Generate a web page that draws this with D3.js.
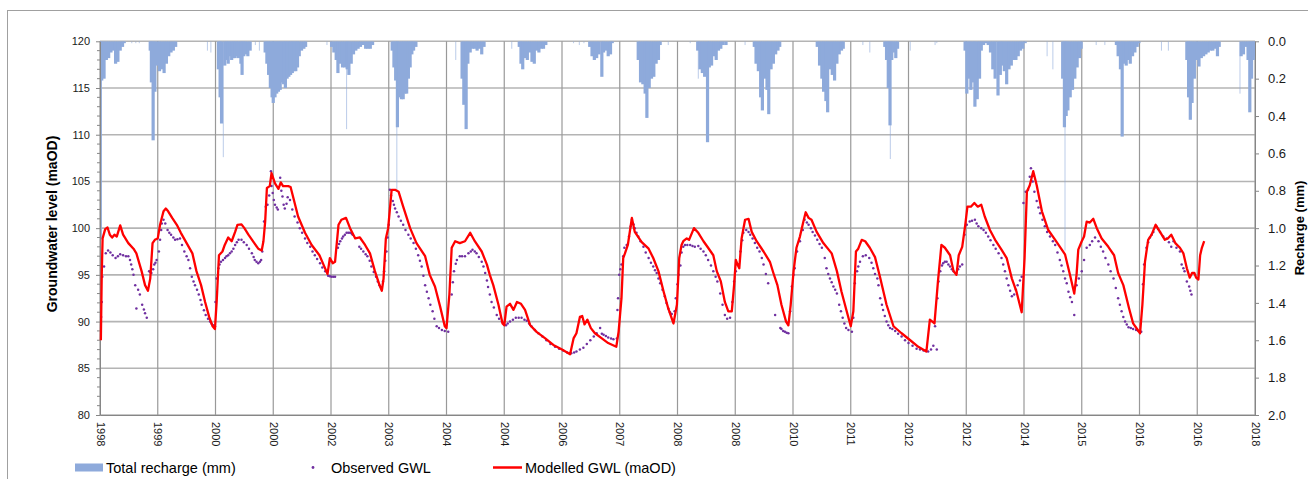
<!DOCTYPE html>
<html>
<head>
<meta charset="utf-8">
<script src="https://cdn.jsdelivr.net/npm/d3@7"></script>
<style>
    body { margin: 0; background: #fff; }
    text { font-family: "Liberation Sans", Arial, sans-serif; }
</style>
</head>
<body>
<script>
//x axis labels (one every 365 days, so leap years repeat a label)
var tickLabels = ["1998","1999","2000","2000","2002","2003","2004","2004","2006","2007",
    "2008","2008","2010","2011","2012","2012","2014","2015","2016","2016","2018"];

var leftTicks = [80, 85, 90, 95, 100, 105, 110, 115, 120];
var rightTicks = [0, 0.2, 0.4, 0.6, 0.8, 1.0, 1.2, 1.4, 1.6, 1.8, 2.0];

//total recharge (mm), [decimal year, mm]
var recharge = [
    [1998.005,1.06],[1998.03,0.21],[1998.07,0.2],[1998.11,0.1],[1998.15,0.09],[1998.19,0.06],[1998.23,0.05],[1998.27,0.12],[1998.31,0.11],[1998.35,0.05],[1998.39,0.03],[1998.42,0.01],
    [1998.87,0.05],[1998.89,0.22],[1998.92,0.53],[1998.95,0.27],[1998.99,0.13],[1999.03,0.16],[1999.07,0.15],[1999.11,0.17],[1999.15,0.12],[1999.19,0.08],[1999.23,0.06],[1999.27,0.05],[1999.31,0.03],
    [2000.05,0.15],[2000.08,0.3],[2000.105,0.44],[2000.16,0.13],[2000.19,0.1],[2000.22,0.12],[2000.25,0.08],[2000.28,0.1],[2000.31,0.09],[2000.34,0.09],[2000.37,0.08],[2000.40,0.09],[2000.44,0.12],[2000.46,0.18],[2000.49,0.08],[2000.52,0.07],[2000.56,0.08],[2000.60,0.05],
    [2000.86,0.06],[2000.89,0.12],[2000.92,0.18],[2000.95,0.25],[2000.98,0.3],[2001.0,0.33],[2001.03,0.3],[2001.06,0.28],[2001.09,0.27],[2001.12,0.26],[2001.15,0.22],[2001.18,0.23],[2001.21,0.25],[2001.24,0.2],[2001.27,0.19],[2001.30,0.18],[2001.33,0.17],[2001.36,0.16],[2001.39,0.16],[2001.42,0.14],[2001.45,0.08],[2001.49,0.05],[2001.53,0.04],[2001.56,0.03],
    [2002.01,0.03],[2002.05,0.06],[2002.09,0.1],[2002.12,0.17],[2002.16,0.12],[2002.20,0.14],[2002.24,0.14],[2002.28,0.15],[2002.31,0.18],[2002.35,0.12],[2002.39,0.07],[2002.43,0.05],[2002.47,0.04],[2002.51,0.03],[2002.56,0.02],[2002.60,0.04],[2002.64,0.04],[2002.68,0.04],[2002.72,0.02],
    [2003.06,0.05],[2003.09,0.14],[2003.12,0.21],[2003.15,0.46],[2003.18,0.3],[2003.22,0.31],[2003.25,0.31],[2003.28,0.28],[2003.31,0.28],[2003.34,0.2],[2003.37,0.14],[2003.40,0.07],[2003.43,0.05],[2003.47,0.03],
    [2004.27,0.2],[2004.30,0.34],[2004.34,0.47],[2004.37,0.12],[2004.41,0.06],[2004.45,0.04],[2004.49,0.04],[2004.53,0.05],[2004.57,0.04],[2004.61,0.07],[2004.65,0.03],
    [2005.26,0.03],[2005.29,0.12],[2005.32,0.15],[2005.36,0.09],[2005.40,0.1],[2005.44,0.06],[2005.48,0.11],[2005.52,0.12],[2005.56,0.05],[2005.60,0.06],[2005.64,0.04],[2005.68,0.04],[2005.72,0.02],
    [2006.48,0.03],[2006.52,0.08],[2006.56,0.1],[2006.60,0.09],[2006.64,0.07],[2006.69,0.19],[2006.72,0.06],[2006.76,0.05],[2006.80,0.08],[2006.84,0.07],[2006.87,0.01],
    [2007.32,0.1],[2007.36,0.22],[2007.40,0.23],[2007.44,0.28],[2007.47,0.41],[2007.51,0.25],[2007.55,0.2],[2007.59,0.19],[2007.63,0.12],[2007.67,0.1],[2007.70,0.02],
    [2008.35,0.05],[2008.39,0.15],[2008.43,0.17],[2008.47,0.19],[2008.52,0.54],[2008.55,0.14],[2008.59,0.13],[2008.63,0.08],[2008.67,0.1],[2008.71,0.05],[2008.75,0.04],[2008.79,0.02],[2008.84,0.02],
    [2009.33,0.03],[2009.36,0.12],[2009.40,0.16],[2009.44,0.3],[2009.47,0.37],[2009.51,0.2],[2009.55,0.26],[2009.58,0.39],[2009.62,0.15],[2009.66,0.12],[2009.70,0.07],[2009.74,0.05],[2009.77,0.03],
    [2010.42,0.03],[2010.46,0.13],[2010.50,0.2],[2010.53,0.27],[2010.57,0.32],[2010.60,0.38],[2010.64,0.15],[2010.68,0.18],[2010.72,0.21],[2010.76,0.12],[2010.80,0.07],[2010.84,0.05],[2010.87,0.04],
    [2011.59,0.03],[2011.62,0.1],[2011.65,0.25],[2011.68,0.45],[2011.71,0.1],[2011.74,0.06],[2011.78,0.09],[2011.81,0.04],
    [2012.98,0.05],[2013.01,0.28],[2013.05,0.2],[2013.08,0.26],[2013.12,0.22],[2013.15,0.35],[2013.19,0.31],[2013.23,0.2],[2013.26,0.05],[2013.30,0.02],[2013.34,0.01],[2013.38,0.02],[2013.42,0.06],[2013.46,0.15],[2013.50,0.2],[2013.55,0.29],[2013.59,0.18],[2013.62,0.13],[2013.66,0.16],[2013.70,0.23],[2013.74,0.15],[2013.78,0.13],[2013.82,0.1],[2013.86,0.1],[2013.90,0.08],[2013.94,0.05],[2013.98,0.04],[2014.02,0.01],
    [2014.67,0.2],[2014.70,0.46],[2014.73,0.4],[2014.76,0.37],[2014.80,0.3],[2014.84,0.26],[2014.88,0.2],[2014.92,0.14],[2014.96,0.09],[2014.99,0.04],
    [2015.60,0.02],[2015.63,0.08],[2015.67,0.15],[2015.70,0.51],[2015.73,0.12],[2015.77,0.13],[2015.81,0.1],[2015.84,0.12],[2015.88,0.08],[2015.92,0.06],[2015.96,0.03],[2015.99,0.01],
    [2016.82,0.1],[2016.85,0.3],[2016.88,0.42],[2016.91,0.33],[2016.95,0.2],[2016.99,0.1],[2017.03,0.135],[2017.07,0.09],[2017.11,0.08],[2017.15,0.07],[2017.19,0.06],[2017.23,0.05],[2017.27,0.05],[2017.31,0.04],[2017.35,0.08],[2017.38,0.03],
    [2017.76,0.08],[2017.80,0.07],[2017.84,0.03],[2017.88,0.1],[2017.91,0.38],[2017.94,0.2],[2017.97,0.1],[2017.99,0.08]
];

//single-day recharge peaks (drawn as hairlines)
var rechargeDaily = [
    [1998.55,0.01],[1998.62,0.01],[1998.68,0.01],[1999.86,0.05],[1999.92,0.06],[2000.135,0.62],[2000.69,0.02],[2000.76,0.05],
    [2001.93,0.02],[2002.27,0.47],[2003.14,0.8],[2004.16,0.1],[2005.13,0.04],[2006.20,0.01],[2006.30,0.02],[2006.38,0.01],
    [2007.84,0.02],[2008.22,0.01],[2008.36,0.2],[2009.17,0.02],[2011.21,0.02],[2011.33,0.06],[2011.685,0.63],[2012.03,0.05],
    [2012.46,0.02],[2012.49,0.01],[2014.40,0.08],[2014.50,0.15],[2014.71,1.12],[2015.25,0.02],[2015.40,0.02],[2016.38,0.05],
    [2016.50,0.05],[2017.74,0.28]
];

//observed groundwater level (maOD)
var observedGWL = [
    [1998.02,90.5],[1998.03,92.1],[1998.04,94.8],[1998.07,95.9],[1998.10,97.3],[1998.14,97.6],[1998.18,97.4],[1998.22,97.1],[1998.27,96.8],[1998.31,97.0],[1998.35,97.2],[1998.40,97.1],[1998.45,97.0],[1998.49,97.0],[1998.52,96.6],[1998.54,96.1],[1998.56,95.6],[1998.58,95.0],[1998.61,93.9],[1998.63,91.4],[1998.66,93.4],[1998.69,92.9],[1998.73,91.8],[1998.76,91.3],[1998.78,90.9],[1998.81,90.4],
    [1998.85,95.4],[1998.87,95.3],[1998.89,95.2],[1998.92,95.6],[1998.94,96.1],[1998.96,96.3],[1998.98,96.6],[1999.02,97.5],[1999.04,98.75],[1999.06,99.8],[1999.07,100.5],[1999.10,100.9],[1999.13,100.5],[1999.17,99.8],[1999.20,99.5],[1999.23,99.3],[1999.27,99.0],[1999.30,98.75],[1999.34,98.8],[1999.385,98.9],[1999.42,98.2],[1999.46,97.5],[1999.50,97.0],[1999.53,96.6],[1999.56,95.7],[1999.59,94.8],[1999.62,94.3],[1999.645,93.9],[1999.68,93.4],[1999.71,92.9],[1999.74,92.3],[1999.76,91.8],[1999.80,91.2],[1999.83,90.7],[1999.87,90.3],[1999.905,90.0],[1999.93,89.8],[1999.96,89.6],[1999.99,89.5],
    [2000.00,92.1],[2000.02,94.6],[2000.05,95.7],[2000.07,96.1],[2000.095,96.4],[2000.13,96.6],[2000.165,96.8],[2000.19,97.0],[2000.22,97.1],[2000.25,97.3],[2000.28,97.5],[2000.31,97.8],[2000.34,98.2],[2000.37,98.5],[2000.40,98.75],[2000.45,98.75],[2000.49,98.5],[2000.54,98.2],[2000.58,97.8],[2000.63,97.3],[2000.66,96.9],[2000.68,96.6],[2000.71,96.4],[2000.74,96.25],[2000.77,96.4],[2000.79,96.6],[2000.81,97.5],[2000.84,100.7],[2000.87,102.3],[2000.90,102.5],[2000.93,103.5],[2000.96,106.1],[2000.97,104.5],[2000.99,103.75],[2001.01,103.0],[2001.03,102.5],[2001.06,102.2],[2001.08,102.0],[2001.12,105.4],[2001.14,104.0],[2001.16,103.4],[2001.18,102.5],[2001.20,102.1],[2001.23,102.6],[2001.25,103.3],[2001.29,103.0],[2001.33,102.0],[2001.37,101.25],
    [2001.42,100.6],[2001.46,100.0],[2001.50,99.5],[2001.55,98.9],[2001.59,98.4],[2001.64,98.0],[2001.68,97.5],[2001.72,97.1],[2001.76,96.7],[2001.81,96.25],[2001.85,95.8],[2001.90,95.4],[2001.95,94.9],[2001.98,94.85],[2002.01,94.8],[2002.04,94.8],[2002.07,94.8],
    [2002.12,97.9],[2002.14,98.3],[2002.16,98.6],[2002.19,98.9],[2002.21,99.1],[2002.24,99.3],[2002.27,99.5],[2002.30,99.5],[2002.33,99.5],[2002.36,99.4],[2002.375,99.3],
    [2002.49,98.0],[2002.52,97.8],[2002.56,97.5],[2002.60,97.2],[2002.63,97.0],[2002.67,96.5],[2002.70,95.9],[2002.74,95.3],[2002.78,94.8],[2002.81,94.3],[2002.84,93.9],[2002.86,93.7],[2002.88,93.6],[2002.90,94.3],[2002.92,95.4],[2002.94,96.5],[2002.96,97.5],[2002.98,99.0],[2003.00,100.36],[2003.02,104.1],[2003.04,103.5],[2003.07,102.9],[2003.09,102.5],[2003.11,102.1],[2003.14,101.7],[2003.17,101.25],[2003.21,100.8],[2003.25,100.36],[2003.29,99.8],[2003.34,99.3],[2003.38,98.9],[2003.43,98.4],[2003.47,97.8],[2003.51,97.1],[2003.54,96.5],[2003.57,95.9],[2003.60,94.9],[2003.63,93.9],[2003.66,93.2],[2003.69,92.5],[2003.72,91.8],[2003.76,91.1],[2003.79,90.3],[2003.83,89.5],[2003.87,89.3],[2003.92,89.1],[2003.97,89.0],[2004.03,88.9],
    [2004.09,92.9],[2004.11,94.2],[2004.13,95.4],[2004.16,96.2],[2004.18,96.6],[2004.23,97.0],[2004.27,97.0],[2004.32,97.0],[2004.38,97.3],[2004.42,97.5],[2004.45,97.7],[2004.49,97.5],[2004.52,97.3],[2004.56,96.9],[2004.61,96.4],[2004.64,95.9],[2004.67,95.2],[2004.70,94.4],[2004.72,93.7],[2004.75,92.9],[2004.78,92.1],[2004.82,91.5],[2004.87,90.7],[2004.91,90.3],[2004.96,90.0],[2005.00,89.7],[2005.03,89.6],[2005.06,89.8],[2005.10,90.0],[2005.15,90.2],[2005.20,90.4],[2005.25,90.4],[2005.30,90.4],[2005.35,90.2],[2005.39,90.1],[2005.43,89.8],[2005.47,89.5],[2005.53,89.1],[2005.59,88.75],[2005.66,88.4],[2005.73,88.0],[2005.80,87.6],[2005.88,87.3],[2005.95,87.1],[2006.02,86.9],[2006.09,86.7],[2006.16,86.6],[2006.21,86.7],[2006.25,86.8],[2006.31,87.0],[2006.37,87.2],[2006.43,87.6],[2006.49,88.0],[2006.55,88.4],[2006.60,88.75],[2006.66,89.3],[2006.69,88.7],[2006.72,88.6],[2006.76,88.45],[2006.80,88.3],[2006.85,88.2],[2006.89,88.1],[2006.95,88.2],
    [2006.96,91.25],[2006.97,92.5],[2006.99,95.0],[2007.01,95.6],[2007.03,96.1],[2007.06,97.0],[2007.08,97.9],[2007.12,98.2],[2007.16,99.1],[2007.19,100.2],[2007.21,100.9],[2007.24,100.4],[2007.26,100.0],[2007.29,99.5],[2007.32,99.1],[2007.36,98.6],[2007.41,98.0],[2007.45,97.4],[2007.50,96.8],[2007.54,96.3],[2007.58,95.9],[2007.61,95.5],[2007.64,95.2],[2007.67,94.6],[2007.70,94.1],[2007.74,93.4],[2007.78,92.7],[2007.81,92.0],[2007.84,91.4],[2007.87,91.0],[2007.90,90.8],[2007.95,91.1],[2007.97,92.5],[2008.00,94.0],[2008.02,95.0],[2008.05,96.0],[2008.07,97.4],[2008.10,98.0],[2008.13,98.2],[2008.17,98.2],[2008.22,98.2],[2008.26,98.1],[2008.30,98.0],[2008.36,98.1],[2008.40,97.8],[2008.45,97.5],[2008.49,97.1],[2008.53,96.6],[2008.58,96.0],[2008.62,95.4],[2008.66,94.8],[2008.69,94.3],[2008.74,93.0],[2008.78,91.8],[2008.82,90.7],[2008.86,90.3],[2008.91,90.4],[2008.95,92.1],[2008.98,94.3],
    [2009.01,95.4],[2009.05,96.1],[2009.09,97.5],[2009.12,98.7],[2009.14,99.5],[2009.19,99.8],[2009.23,99.6],[2009.26,99.3],[2009.30,98.9],[2009.34,98.4],[2009.38,97.9],[2009.42,97.5],[2009.46,96.8],[2009.49,96.1],[2009.53,95.1],[2009.57,94.1],[2009.69,90.7],[2009.78,89.3],[2009.80,89.2],[2009.83,89.0],[2009.86,88.9],[2009.89,88.8],[2009.92,88.75],[2009.95,91.1],[2009.98,93.75],[2010.01,95.0],[2010.03,95.7],[2010.07,97.5],[2010.12,98.6],[2010.17,99.8],[2010.20,100.9],[2010.24,100.6],[2010.27,100.36],[2010.31,100.0],[2010.34,99.6],[2010.38,99.2],[2010.42,98.75],[2010.46,98.3],[2010.50,97.9],[2010.55,96.8],[2010.58,95.7],[2010.61,95.1],[2010.64,94.6],[2010.67,94.2],[2010.70,93.75],[2010.73,93.4],[2010.76,93.0],[2010.80,91.8],[2010.83,91.1],[2010.86,90.4],[2010.89,89.8],[2010.92,89.3],[2010.96,89.1],[2011.02,88.9],
    [2011.045,90.4],[2011.07,94.1],[2011.11,95.4],[2011.13,95.9],[2011.16,96.4],[2011.21,97.0],[2011.26,97.1],[2011.32,96.8],[2011.36,96.3],[2011.39,95.7],[2011.42,95.1],[2011.46,94.6],[2011.48,93.9],[2011.51,92.5],[2011.54,91.8],[2011.56,91.25],[2011.59,90.6],[2011.62,90.0],[2011.65,89.6],[2011.68,89.3],[2011.72,89.2],[2011.77,89.0],[2011.82,88.7],[2011.88,88.4],[2011.94,88.0],[2012.00,87.7],[2012.07,87.4],[2012.14,87.1],[2012.20,87.0],[2012.26,86.9],[2012.30,86.85],[2012.34,86.8],[2012.39,87.0],[2012.43,87.4],[2012.49,87.0],
    [2012.46,89.5],[2012.50,92.5],[2012.52,94.3],[2012.55,95.4],[2012.58,96.0],[2012.60,96.25],[2012.63,96.4],[2012.66,96.4],[2012.69,96.1],[2012.72,95.9],[2012.75,95.6],[2012.78,95.4],[2012.83,95.2],[2012.86,95.6],[2012.89,95.9],[2012.93,96.1],[2012.97,99.3],[2013.01,100.36],[2013.06,100.7],[2013.10,100.8],[2013.15,100.9],[2013.18,100.5],[2013.21,100.2],[2013.26,100.0],[2013.30,99.8],[2013.34,99.5],[2013.38,99.1],[2013.42,98.7],[2013.47,98.2],[2013.51,97.8],[2013.56,97.3],[2013.61,96.8],[2013.64,96.1],[2013.67,95.4],[2013.70,94.6],[2013.73,93.9],[2013.76,93.3],[2013.79,92.7],[2013.83,92.9],[2013.86,93.4],[2013.89,93.9],[2013.93,94.4],[2013.96,94.8],
    [2013.99,102.7],[2014.03,103.9],[2014.07,104.1],[2014.10,105.5],[2014.12,106.4],[2014.15,105.0],[2014.18,103.9],[2014.22,102.9],[2014.25,102.2],[2014.28,101.6],[2014.32,100.9],[2014.36,100.2],[2014.40,99.6],[2014.45,99.1],[2014.50,98.6],[2014.54,98.2],[2014.58,97.4],[2014.62,96.6],[2014.65,96.0],[2014.68,95.4],[2014.71,94.6],[2014.74,94.1],[2014.77,93.2],[2014.80,92.6],[2014.83,92.1],[2014.87,90.7],
    [2014.91,93.9],[2014.95,94.6],[2015.00,95.4],[2015.04,96.6],[2015.085,97.9],[2015.14,98.2],[2015.18,98.6],[2015.23,99.0],[2015.29,98.6],[2015.33,98.0],[2015.37,97.5],[2015.41,96.8],[2015.46,96.1],[2015.50,95.4],[2015.55,94.6],[2015.59,93.6],[2015.63,92.5],[2015.66,91.8],[2015.69,91.1],[2015.72,90.5],[2015.75,90.0],[2015.78,89.7],[2015.81,89.4],[2015.85,89.3],[2015.89,89.2],[2015.94,89.1],[2015.98,89.0],[2016.03,88.9],
    [2016.06,94.0],[2016.08,96.1],[2016.12,97.9],[2016.15,98.5],[2016.18,99.0],[2016.21,99.3],[2016.24,99.6],[2016.29,100.2],[2016.32,99.9],[2016.355,99.6],[2016.41,99.1],[2016.47,98.9],[2016.51,98.5],[2016.55,98.0],[2016.59,98.6],[2016.64,97.9],[2016.70,97.5],[2016.73,96.1],[2016.76,95.7],[2016.78,95.4],[2016.82,94.3],[2016.86,93.75],[2016.88,93.3],[2016.90,92.9]
];

//modelled groundwater level (maOD)
var modelledGWL = [
    [1998.015,88.0],[1998.03,95.0],[1998.045,98.9],[1998.09,99.9],[1998.13,100.07],[1998.17,99.3],[1998.21,99.0],[1998.25,99.3],[1998.29,99.1],[1998.35,100.3],[1998.40,99.3],[1998.49,98.4],[1998.58,97.8],[1998.63,97.3],[1998.72,95.4],[1998.78,93.9],[1998.83,93.3],[1998.87,94.6],[1998.91,98.4],[1998.95,98.75],[1999.0,98.9],
    [1999.04,100.36],[1999.10,101.8],[1999.14,102.1],[1999.18,101.8],[1999.25,101.1],[1999.33,100.36],[1999.40,99.5],[1999.50,98.4],[1999.60,97.3],[1999.67,95.4],[1999.75,93.9],[1999.82,92.1],[1999.89,90.5],[1999.95,89.5],[1999.99,89.2],
    [2000.02,92.1],[2000.06,97.1],[2000.12,97.5],[2000.16,98.2],[2000.22,99.0],[2000.28,98.6],[2000.34,99.6],[2000.38,100.36],[2000.45,100.4],[2000.50,100.0],[2000.57,99.3],[2000.66,98.5],[2000.74,97.8],[2000.80,97.6],[2000.83,98.6],[2000.86,100.7],[2000.89,104.3],[2000.94,104.5],[2000.97,105.9],
    [2001.03,104.8],[2001.09,104.2],[2001.13,104.9],[2001.17,104.5],[2001.26,104.5],[2001.30,104.4],[2001.35,103.2],[2001.43,101.25],[2001.55,99.5],[2001.665,98.2],[2001.80,97.1],[2001.87,96.1],[2001.94,95.1],[2001.98,96.8],
    [2002.03,96.25],[2002.07,96.4],[2002.13,100.36],[2002.18,100.9],[2002.26,101.1],[2002.33,100.0],[2002.42,98.9],[2002.50,99.0],[2002.59,98.2],[2002.675,97.3],[2002.76,95.4],[2002.84,93.9],[2002.88,93.3],[2002.91,94.6],[2002.95,98.9],[2002.99,100.0],
    [2003.05,104.1],[2003.11,104.1],[2003.17,103.9],[2003.25,102.3],[2003.37,100.0],[2003.48,98.4],[2003.63,97.0],[2003.71,95.0],[2003.80,93.75],[2003.89,91.6],[2003.97,89.5],[2004.0,89.3],
    [2004.05,92.9],[2004.09,97.9],[2004.15,98.6],[2004.23,98.4],[2004.32,98.6],[2004.41,99.5],[2004.49,98.6],[2004.61,97.5],[2004.70,96.1],[2004.75,95.0],[2004.81,93.9],[2004.90,91.8],[2004.97,89.8],[2005.0,89.6],
    [2005.04,91.6],[2005.10,91.9],[2005.16,91.25],[2005.22,92.1],[2005.29,91.9],[2005.36,91.25],[2005.45,89.6],[2005.56,88.9],[2005.71,88.2],[2005.85,87.5],[2006.0,87.0],
    [2006.14,86.5],[2006.20,88.2],[2006.25,88.75],[2006.31,90.5],[2006.35,90.6],[2006.39,89.7],[2006.44,90.2],[2006.50,89.3],[2006.57,88.75],[2006.69,88.2],[2006.80,87.7],[2006.94,87.3],[2006.98,88.9],
    [2007.03,92.5],[2007.06,96.8],[2007.09,97.3],[2007.14,98.2],[2007.21,101.1],[2007.26,99.6],[2007.38,98.5],[2007.50,97.8],[2007.58,96.8],[2007.67,95.4],[2007.76,93.2],[2007.84,91.4],[2007.93,89.8],[2007.99,91.8],
    [2008.03,96.8],[2008.07,98.2],[2008.10,98.6],[2008.16,98.9],[2008.20,98.75],[2008.285,100.0],[2008.36,99.5],[2008.45,98.6],[2008.53,97.9],[2008.62,97.1],[2008.68,95.4],[2008.75,94.3],[2008.82,92.1],[2008.88,91.1],[2008.94,91.1],[2008.98,93.9],
    [2009.01,96.6],[2009.04,96.1],[2009.07,95.7],[2009.11,98.9],[2009.17,100.9],[2009.23,101.0],[2009.285,99.6],[2009.37,98.6],[2009.49,97.5],[2009.60,96.4],[2009.66,95.2],[2009.73,93.9],[2009.80,91.8],[2009.88,90.0],[2009.92,89.6],[2009.96,91.8],
    [2010.01,95.4],[2010.06,97.9],[2010.12,99.1],[2010.18,100.7],[2010.22,101.7],[2010.27,101.1],[2010.32,100.9],[2010.41,99.6],[2010.525,98.4],[2010.67,97.3],[2010.76,95.4],[2010.84,93.2],[2010.93,91.1],[2011.0,89.5],
    [2011.045,91.1],[2011.09,97.5],[2011.13,97.8],[2011.19,98.75],[2011.25,98.6],[2011.33,97.9],[2011.42,96.9],[2011.51,94.7],[2011.54,93.9],[2011.62,91.8],[2011.74,89.5],[2011.88,88.75],[2012.03,88.0],[2012.17,87.3],[2012.31,86.8],
    [2012.37,90.2],[2012.45,89.8],[2012.51,94.3],[2012.57,98.2],[2012.63,97.9],[2012.72,97.1],[2012.78,95.4],[2012.83,95.0],[2012.87,97.1],[2012.93,98.0],[2012.98,100.2],
    [2013.02,102.3],[2013.08,102.3],[2013.14,102.7],[2013.20,102.3],[2013.26,102.5],[2013.32,101.25],[2013.41,99.8],[2013.50,98.75],[2013.61,97.7],[2013.70,96.8],[2013.79,94.6],[2013.87,93.2],[2013.96,91.0],
    [2014.01,96.8],[2014.05,103.9],[2014.10,104.6],[2014.16,106.1],[2014.22,104.6],[2014.31,101.8],[2014.42,99.8],[2014.54,98.75],[2014.71,97.2],[2014.80,94.9],[2014.87,93.0],[2014.91,95.0],[2014.94,97.7],
    [2015.0,98.6],[2015.04,99.1],[2015.085,100.7],[2015.14,100.6],[2015.20,101.0],[2015.26,100.0],[2015.345,98.9],[2015.46,98.0],[2015.56,97.1],[2015.63,95.2],[2015.72,93.9],[2015.82,91.4],[2015.89,89.8],[2015.97,89.1],[2016.01,88.75],
    [2016.05,91.8],[2016.095,96.4],[2016.15,98.75],[2016.21,99.3],[2016.28,100.36],[2016.355,99.6],[2016.44,98.75],[2016.49,98.9],[2016.55,99.3],[2016.62,98.4],[2016.70,97.9],[2016.76,97.3],[2016.82,95.7],[2016.87,94.7],[2016.91,95.2],[2016.95,95.2],[2016.98,94.7],
    [2017.02,94.5],[2017.05,97.1],[2017.08,97.9],[2017.12,98.6]
];

window.onload = setChart();

function setChart(){
    //page and plot frame
    var width = 1308,
        height = 479;
    var plot = {left: 100, right: 1255, top: 41.3, bottom: 415};

    var svg = d3.select("body")
        .append("svg")
        .attr("width", width)
        .attr("height", height);

    //outer chart border (runs off the right and bottom edges)
    svg.append("rect")
        .attr("x", 7.5)
        .attr("y", 10.5)
        .attr("width", 1340)
        .attr("height", 500)
        .attr("fill", "none")
        .attr("stroke", "#a0a0a0");

    //scales
    var x = d3.scaleLinear()
        .domain([1998, 2018])
        .range([plot.left, plot.right]);

    var yLeft = d3.scaleLinear()
        .domain([80, 120])
        .range([plot.bottom, plot.top]);

    var yRight = d3.scaleLinear()
        .domain([0, 2])
        .range([plot.top, plot.bottom]);

    var years = d3.range(1998, 2019);

    //gridlines
    svg.append("g")
        .selectAll("line")
        .data(leftTicks)
        .enter()
        .append("line")
        .attr("x1", plot.left)
        .attr("x2", plot.right)
        .attr("y1", function(d){ return yLeft(d); })
        .attr("y2", function(d){ return yLeft(d); })
        .attr("stroke", "#b4b4b4")
        .attr("stroke-width", 1.6);

    svg.append("g")
        .selectAll("line")
        .data(years)
        .enter()
        .append("line")
        .attr("x1", function(d){ return x(d); })
        .attr("x2", function(d){ return x(d); })
        .attr("y1", plot.top)
        .attr("y2", plot.bottom)
        .attr("stroke", "#999")
        .attr("stroke-width", 1.2);

    //clip for recharge bars
    svg.append("clipPath")
        .attr("id", "plotClip")
        .append("rect")
        .attr("x", plot.left)
        .attr("y", plot.top)
        .attr("width", plot.right - plot.left)
        .attr("height", plot.bottom - plot.top);

    var bars = svg.append("g").attr("clip-path", "url(#plotClip)");

    //recharge columns hanging from the top (secondary axis)
    bars.selectAll(".rech")
        .data(recharge)
        .enter()
        .append("rect")
        .attr("class", "rech")
        .attr("x", function(d){ return x(d[0]) - 1.6; })
        .attr("y", yRight(0))
        .attr("width", 3.2)
        .attr("height", function(d){ return yRight(d[1]) - yRight(0); })
        .attr("fill", "#8eaadb");

    bars.selectAll(".rechDay")
        .data(rechargeDaily)
        .enter()
        .append("rect")
        .attr("class", "rechDay")
        .attr("x", function(d){ return x(d[0]) - 0.5; })
        .attr("y", yRight(0))
        .attr("width", 1)
        .attr("height", function(d){ return yRight(d[1]) - yRight(0); })
        .attr("fill", "#8eaadb")
        .attr("opacity", 0.6);

    //left axis with minor ticks
    var minorTicks = d3.range(80, 121).filter(function(d){ return d % 5 !== 0; });
    svg.append("g")
        .selectAll("line")
        .data(minorTicks)
        .enter()
        .append("line")
        .attr("x1", plot.left - 3)
        .attr("x2", plot.left)
        .attr("y1", function(d){ return yLeft(d); })
        .attr("y2", function(d){ return yLeft(d); })
        .attr("stroke", "#888");

    var leftAxis = svg.append("g")
        .attr("transform", "translate(" + plot.left + ",0)")
        .call(d3.axisLeft(yLeft).tickValues(leftTicks).tickSize(4).tickPadding(6).tickSizeOuter(0));
    styleAxis(leftAxis, 11);

    //right axis
    var rightAxis = svg.append("g")
        .attr("transform", "translate(" + plot.right + ",0)")
        .call(d3.axisRight(yRight).tickValues(rightTicks).tickFormat(d3.format(".1f")).tickSize(4).tickPadding(9).tickSizeOuter(0));
    styleAxis(rightAxis, 13);

    //bottom axis, rotated year labels
    var bottomAxis = svg.append("g")
        .attr("transform", "translate(0," + plot.bottom + ")")
        .call(d3.axisBottom(x).tickValues(years).tickSize(0).tickSizeOuter(0)
            .tickFormat(function(d, i){ return tickLabels[i]; }));
    styleAxis(bottomAxis, 11);
    bottomAxis.selectAll("text")
        .attr("y", 0)
        .attr("x", 7)
        .attr("dy", "0.35em")
        .attr("transform", "rotate(90)")
        .style("text-anchor", "start");

    //observed groundwater level dots
    svg.append("g")
        .selectAll("circle")
        .data(observedGWL)
        .enter()
        .append("circle")
        .attr("cx", function(d){ return x(d[0]); })
        .attr("cy", function(d){ return yLeft(d[1]); })
        .attr("r", 1.25)
        .attr("fill", "#7030a0");

    //modelled groundwater level line
    var line = d3.line()
        .x(function(d){ return x(d[0]); })
        .y(function(d){ return yLeft(d[1]); });

    svg.append("path")
        .datum(modelledGWL)
        .attr("d", line)
        .attr("fill", "none")
        .attr("stroke", "#ff0000")
        .attr("stroke-width", 2.3)
        .attr("stroke-linejoin", "round");

    //axis titles
    svg.append("text")
        .attr("transform", "translate(57,224) rotate(-90)")
        .attr("text-anchor", "middle")
        .attr("font-size", 14)
        .attr("font-weight", "bold")
        .attr("fill", "#000")
        .text("Groundwater level (maOD)");

    svg.append("text")
        .attr("transform", "translate(1304,228) rotate(-90)")
        .attr("text-anchor", "middle")
        .attr("font-size", 13)
        .attr("font-weight", "bold")
        .attr("fill", "#000")
        .text("Recharge (mm)");

    //legend
    var legend = svg.append("g").attr("font-size", 14.5).attr("fill", "#000");

    legend.append("rect")
        .attr("x", 75).attr("y", 463.5)
        .attr("width", 28).attr("height", 8)
        .attr("fill", "#8eaadb");
    legend.append("text").attr("x", 106).attr("y", 472.5).text("Total recharge (mm)");

    legend.append("circle")
        .attr("cx", 313).attr("cy", 467.5).attr("r", 1.4)
        .attr("fill", "#7030a0");
    legend.append("text").attr("x", 331).attr("y", 472.5).text("Observed GWL");

    legend.append("line")
        .attr("x1", 493).attr("x2", 522)
        .attr("y1", 467.5).attr("y2", 467.5)
        .attr("stroke", "#ff0000").attr("stroke-width", 2.5);
    legend.append("text").attr("x", 525).attr("y", 472.5).text("Modelled GWL (maOD)");

    function styleAxis(g, size){
        g.attr("font-family", "Liberation Sans, Arial, sans-serif")
            .attr("font-size", size);
        g.select(".domain").attr("stroke", "#868686");
        g.selectAll(".tick line").attr("stroke", "#868686");
        g.selectAll(".tick text").attr("fill", "#1a1a1a");
    }
};
</script>
</body>
</html>
